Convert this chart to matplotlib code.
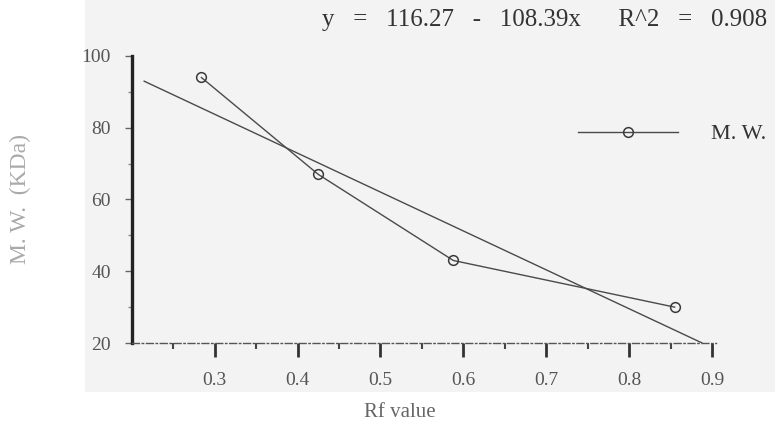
import matplotlib
matplotlib.use("Agg")
import matplotlib.pyplot as plt
import numpy as np
from matplotlib.patches import Rectangle

# standard protein markers: Rf vs molecular weight (kDa)
rf_values = [0.284, 0.425, 0.588, 0.855]
mw_kda = [94, 67, 43, 30]

# linear fit reported on the chart
fit_intercept = 116.27
fit_slope = -108.39
fit_r2 = 0.908
fit_range = [0.215, 0.888]

x_ticks = [0.3, 0.4, 0.5, 0.6, 0.7, 0.8, 0.9]
y_ticks = [20, 40, 60, 80, 100]

plt.rcParams['font.family'] = ['Liberation Serif', 'DejaVu Serif']

fig = plt.figure(figsize=(7.75, 4.43), dpi=100)
fig.patch.set_facecolor('white')
# slightly grey paper tone behind the plot
fig.patches.append(Rectangle((0.11, 0.115), 0.89, 0.885, transform=fig.transFigure,
                             facecolor='#f3f3f3', edgecolor='none', zorder=-10))

ax = fig.add_axes([0.170, 0.2257, 0.754, 0.648])
ax.set_facecolor('none')

line_col = '#4a4a4a'
ax.plot(rf_values, mw_kda, color=line_col, lw=1.0, marker='o', ms=7,
        mfc='none', mec='#3a3a3a', mew=1.1, label='M. W.')

fx = np.array(fit_range)
ax.plot(fx, fit_intercept + fit_slope * fx, color=line_col, lw=1.0)

ax.set_xlim(0.2, 0.905)
ax.set_ylim(20, 100)
ax.set_xticks(x_ticks)
ax.set_xticklabels([f'{v:.1f}' for v in x_ticks])
ax.set_xticks(np.arange(0.25, 0.9, 0.1), minor=True)
ax.set_yticks(y_ticks)
ax.set_yticks([30, 50, 70, 90], minor=True)

for s in ['top', 'right']:
    ax.spines[s].set_visible(False)
ax.spines['left'].set_linewidth(2.4)
ax.spines['left'].set_color('#222222')
ax.spines['bottom'].set_linewidth(1.0)
ax.spines['bottom'].set_color('#555555')
ax.spines['bottom'].set_linestyle((0, (5, 2, 1, 2)))

ax.tick_params(axis='x', which='major', direction='out', length=10, width=2,
               color='#333333', pad=11, labelsize=14, labelcolor='#555555')
ax.tick_params(axis='x', which='minor', direction='out', length=4, width=1.5,
               color='#444444')
ax.tick_params(axis='y', which='major', direction='out', length=5, width=1,
               color='#666666', pad=10, labelsize=14, labelcolor='#555555')
ax.tick_params(axis='y', which='minor', direction='out', length=3, width=1,
               color='#888888')

ax.legend(loc='center left', bbox_to_anchor=(0.729, 0.728), frameon=False,
          handlelength=4.5, handletextpad=1.5, fontsize=16, labelcolor='#333333')

fig.text(0.99, 0.955,
         f'y   =   {fit_intercept}   -   {abs(fit_slope)}x      R^2   =   {fit_r2}',
         ha='right', va='center', fontsize=18, color='#333333')
fig.text(0.516, 0.068, 'Rf value', ha='center', va='center', fontsize=15,
         color='#666666')
fig.text(0.026, 0.55, 'M. W.  (KDa)', ha='center', va='center', rotation=90,
         fontsize=17, color='#aaaaaa')

fig.savefig('out.png', dpi=100)
